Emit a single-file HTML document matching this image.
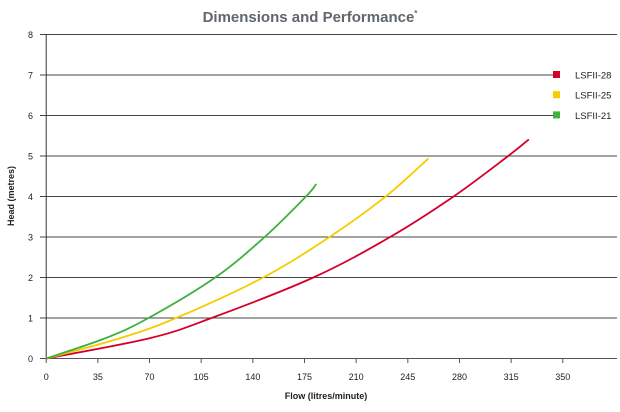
<!DOCTYPE html>
<html><head><meta charset="utf-8"><style>
body{margin:0;background:#fff;width:620px;height:407px;overflow:hidden;font-family:"Liberation Sans",sans-serif}
</style></head><body>
<svg width="620" height="407" xmlns="http://www.w3.org/2000/svg">
<text x="310" y="22" text-anchor="middle" font-size="15" font-weight="bold" fill="#5f666d">Dimensions and Performance<tspan font-size="8" dy="-6">*</tspan></text>
<g id="grid"></g><g id="series"></g><g id="legend"></g>
<text x="326" y="399" text-anchor="middle" font-size="9" font-weight="bold" fill="#222">Flow (litres/minute)</text>
<text transform="translate(14,196) rotate(-90)" text-anchor="middle" font-size="9" font-weight="bold" fill="#222">Head (metres)</text>
</svg>
<script>
const xTicks=[0,35,70,105,140,175,210,245,280,315,350];
const yTicks=[0,1,2,3,4,5,6,7,8];
const seriesNames=["LSFII-28","LSFII-25","LSFII-21"];
const seriesColors=["#d5002a","#f5cc00","#3fb13c"];
const flow28=[0,70,112,181,233,276,313,327];
const head28=[0,0.5,1,2,3,4,5,5.41];
const flow25=[0,50,88,147,192,230,259];
const head25=[0,0.5,1,2,3,4,4.94];
const flow21=[0,40,69.3,114.5,148,176,183];
const head21=[0,0.5,1,2,3,4,4.31];
const NS="http://www.w3.org/2000/svg";
const X=v=>46.2+v*1.476, Y=v=>358.5-v*40.5;
function mk(t,a,p){const e=document.createElementNS(NS,t);for(const k in a)e.setAttribute(k,a[k]);p.appendChild(e);return e;}
const g=document.getElementById('grid');
yTicks.forEach(t=>{
  const end=(t===6||t===7)?553:617;
  const l=mk('line',{x1:40,x2:end,y1:Y(t),y2:Y(t),stroke:t===0?'#555':'#444','stroke-width':1},g);
  
  
  const tx=mk('text',{x:33,y:Y(t)+3.5,'text-anchor':'end','font-size':9,fill:'#222'},g);tx.textContent=t;
  
  
});
mk('line',{x1:X(0),x2:X(0),y1:Y(8),y2:Y(0),stroke:'#333'},g);
xTicks.forEach(t=>{
  mk('line',{x1:X(t),x2:X(t),y1:358,y2:363,stroke:'#555'},g);
  const tx=mk('text',{x:X(t),y:380,'text-anchor':'middle','font-size':9,fill:'#222'},g);tx.textContent=t;
  
  
});
function path(xs,ys){
  const p=xs.map((x,i)=>[X(x),Y(ys[i])]);let d='M'+p[0];
  for(let i=0;i<p.length-1;i++){
    const p0=p[i-1]||p[i],p1=p[i],p2=p[i+1],p3=p[i+2]||p2;
    const c1=[p1[0]+(p2[0]-p0[0])/6,p1[1]+(p2[1]-p0[1])/6],c2=[p2[0]-(p3[0]-p1[0])/6,p2[1]-(p3[1]-p1[1])/6];
    d+=' C'+c1+' '+c2+' '+p2;
  }return d;
}
const s=document.getElementById('series');
[[flow28,head28],[flow25,head25],[flow21,head21]].forEach((d,i)=>{
  const el=mk('path',{d:path(d[0],d[1]),fill:'none',stroke:seriesColors[i],'stroke-width':1.8},s);
  
  
});
const lg=document.getElementById('legend');
seriesNames.forEach((n,i)=>{
  const y=Y(7)+i*20.2;
  const r=mk('rect',{x:553,y:y-4,width:7,height:7,fill:seriesColors[i]},lg);
  
  
  const t=mk('text',{x:575,y:y+3.5,'font-size':9.5,fill:'#222'},lg);t.textContent=n;
  
  
});
</script>
</body></html>
